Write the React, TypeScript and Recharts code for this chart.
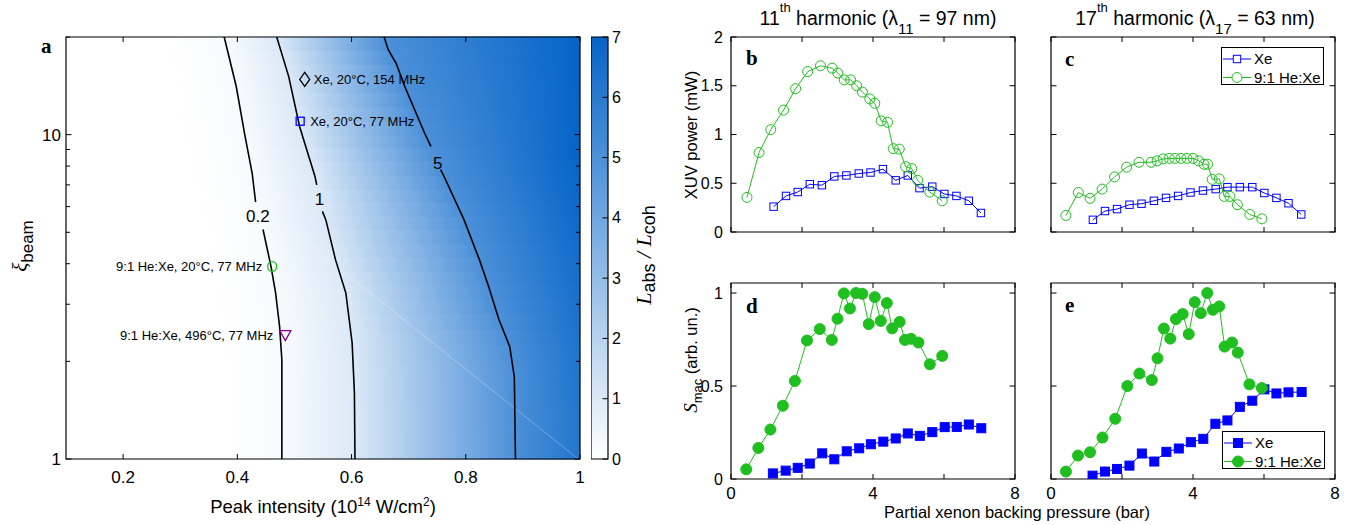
import React from "react";
import {
    ScatterChart,
    Scatter,
    XAxis,
    YAxis,
    ReferenceArea,
    ReferenceLine,
} from "recharts";

const FONT = '"Liberation Sans", Arial, sans-serif';
const SERIF = '"Liberation Serif", "Times New Roman", serif';
const BLUE = "#0000ff";
const GREEN = "#1fbf1f";

// ---------- panel a: L_abs / L_coh map ----------
const intensityTicks = [0.2, 0.4, 0.6, 0.8, 1];
const xiTicks = [1, 2, 3, 4, 5, 6, 7, 8, 9, 10, 20];
const xiLabels = [1, 10];

// contour lines [intensity, xi], split where the level label sits
const contour02Upper = [[0.377, 20], [0.398, 14.1], [0.413, 10], [0.426, 7.6], [0.432, 6.2]];
const contour02Lower = [[0.445, 5.1], [0.459, 3.92], [0.467, 3.25], [0.474, 2.56], [0.478, 2.02], [0.478, 1]];
const contour1Upper = [[0.469, 20], [0.49, 15.1], [0.509, 10.6], [0.536, 7.43], [0.539, 7.0]];
const contour1Lower = [[0.549, 5.8], [0.555, 5.46], [0.572, 4.11], [0.59, 3.25], [0.601, 2.28], [0.605, 1.6], [0.606, 1]];
const contour5Upper = [[0.657, 20], [0.664, 18.3], [0.678, 16.6], [0.693, 14.1], [0.709, 12.1], [0.728, 10.1], [0.739, 9.2]];
const contour5Lower = [[0.756, 7.8], [0.762, 7.43], [0.797, 5.46], [0.824, 4.11], [0.84, 3.4], [0.858, 2.69], [0.877, 2.22], [0.885, 1.79], [0.887, 1]];
const contourLabels = [
    { x: 0.436, y: 5.6, text: "0.2" },
    { x: 0.544, y: 6.35, text: "1" },
    { x: 0.751, y: 8.2, text: "5" },
];

// map rows: xi band, and the intensity where the value reaches 0.2, 1 and 5, plus the value at the right edge
const heatRows = [
    { lo: 1, hi: 1.25, x02: 0.478, x1: 0.606, x5: 0.887, vEnd: 6.2 },
    { lo: 1.25, hi: 1.5, x02: 0.478, x1: 0.606, x5: 0.886, vEnd: 6.2 },
    { lo: 1.5, hi: 1.75, x02: 0.478, x1: 0.605, x5: 0.885, vEnd: 6.25 },
    { lo: 1.75, hi: 2.0, x02: 0.478, x1: 0.604, x5: 0.884, vEnd: 6.3 },
    { lo: 2.0, hi: 2.25, x02: 0.477, x1: 0.602, x5: 0.879, vEnd: 6.3 },
    { lo: 2.25, hi: 2.5, x02: 0.475, x1: 0.6, x5: 0.871, vEnd: 6.35 },
    { lo: 2.5, hi: 2.8, x02: 0.473, x1: 0.597, x5: 0.86, vEnd: 6.4 },
    { lo: 2.8, hi: 3.1, x02: 0.469, x1: 0.593, x5: 0.851, vEnd: 6.45 },
    { lo: 3.1, hi: 3.45, x02: 0.467, x1: 0.589, x5: 0.843, vEnd: 6.5 },
    { lo: 3.45, hi: 3.8, x02: 0.463, x1: 0.583, x5: 0.835, vEnd: 6.55 },
    { lo: 3.8, hi: 4.2, x02: 0.459, x1: 0.575, x5: 0.826, vEnd: 6.6 },
    { lo: 4.2, hi: 4.6, x02: 0.455, x1: 0.568, x5: 0.818, vEnd: 6.65 },
    { lo: 4.6, hi: 5.1, x02: 0.45, x1: 0.561, x5: 0.808, vEnd: 6.7 },
    { lo: 5.1, hi: 5.6, x02: 0.445, x1: 0.556, x5: 0.799, vEnd: 6.75 },
    { lo: 5.6, hi: 6.2, x02: 0.44, x1: 0.551, x5: 0.788, vEnd: 6.8 },
    { lo: 6.2, hi: 6.8, x02: 0.436, x1: 0.545, x5: 0.777, vEnd: 6.85 },
    { lo: 6.8, hi: 7.5, x02: 0.429, x1: 0.538, x5: 0.767, vEnd: 6.9 },
    { lo: 7.5, hi: 8.3, x02: 0.424, x1: 0.532, x5: 0.755, vEnd: 6.95 },
    { lo: 8.3, hi: 9.1, x02: 0.42, x1: 0.524, x5: 0.745, vEnd: 7 },
    { lo: 9.1, hi: 10, x02: 0.415, x1: 0.515, x5: 0.734, vEnd: 7 },
    { lo: 10, hi: 11, x02: 0.411, x1: 0.51, x5: 0.727, vEnd: 7 },
    { lo: 11, hi: 12.2, x02: 0.406, x1: 0.504, x5: 0.713, vEnd: 7 },
    { lo: 12.2, hi: 13.5, x02: 0.402, x1: 0.497, x5: 0.703, vEnd: 7 },
    { lo: 13.5, hi: 15, x02: 0.398, x1: 0.49, x5: 0.693, vEnd: 7 },
    { lo: 15, hi: 16.5, x02: 0.392, x1: 0.487, x5: 0.685, vEnd: 7 },
    { lo: 16.5, hi: 18.2, x02: 0.386, x1: 0.48, x5: 0.672, vEnd: 7 },
    { lo: 18.2, hi: 20, x02: 0.38, x1: 0.472, x5: 0.662, vEnd: 7 },
];
const colorbarTicks = [0, 1, 2, 3, 4, 5, 6, 7];

// operating points
const xe154 = [{ x: 0.518, y: 14.8, note: "Xe, 20°C, 154 MHz" }];
const xe77 = [{ x: 0.51, y: 11.0, note: "Xe, 20°C, 77 MHz" }];
const heXe20 = [{ x: 0.461, y: 3.92, note: "9:1 He:Xe, 20°C, 77 MHz" }];
const heXe496 = [{ x: 0.484, y: 2.4, note: "9:1 He:Xe, 496°C, 77 MHz" }];

// ---------- panels b-e: partial Xe pressure (bar) vs value ----------
const pressureTicks = [0, 2, 4, 6, 8];
const powerTicks = [0, 0.5, 1, 1.5, 2];
const smacTicks = [0, 0.5, 1];

const powerXeH11 = [[1.2, 0.26], [1.55, 0.37], [1.88, 0.41], [2.22, 0.49], [2.56, 0.48], [2.91, 0.57], [3.25, 0.58], [3.6, 0.6], [3.93, 0.61], [4.28, 0.645], [4.64, 0.53], [4.98, 0.58], [5.31, 0.45], [5.67, 0.465], [6.01, 0.39], [6.35, 0.37], [6.7, 0.32], [7.04, 0.195]];
const powerMixH11 = [[0.45, 0.355], [0.79, 0.815], [1.12, 1.05], [1.48, 1.25], [1.82, 1.47], [2.16, 1.645], [2.52, 1.705], [2.85, 1.68], [3.01, 1.63], [3.19, 1.56], [3.37, 1.56], [3.54, 1.5], [3.7, 1.435], [3.91, 1.365], [4.05, 1.32], [4.23, 1.14], [4.41, 1.125], [4.57, 0.855], [4.74, 0.85], [4.92, 0.67], [5.09, 0.65], [5.26, 0.53], [5.6, 0.41], [5.95, 0.32]];
const powerXeH17 = [[1.18, 0.125], [1.52, 0.215], [1.86, 0.235], [2.21, 0.28], [2.55, 0.29], [2.9, 0.32], [3.24, 0.35], [3.58, 0.37], [3.93, 0.405], [4.28, 0.425], [4.64, 0.44], [4.97, 0.46], [5.32, 0.46], [5.67, 0.46], [6.01, 0.4], [6.35, 0.35], [6.69, 0.295], [7.05, 0.18]];
const powerMixH17 = [[0.42, 0.17], [0.77, 0.405], [1.1, 0.345], [1.44, 0.44], [1.79, 0.565], [2.13, 0.665], [2.48, 0.715], [2.82, 0.715], [2.99, 0.73], [3.16, 0.75], [3.33, 0.755], [3.49, 0.755], [3.66, 0.755], [3.83, 0.755], [4.0, 0.755], [4.16, 0.73], [4.31, 0.695], [4.41, 0.695], [4.54, 0.54], [4.74, 0.545], [4.88, 0.365], [5.04, 0.365], [5.25, 0.28], [5.6, 0.18], [5.94, 0.135]];
const smacXeH11 = [[1.18, 0.03], [1.54, 0.045], [1.88, 0.06], [2.22, 0.083], [2.57, 0.138], [2.91, 0.106], [3.26, 0.149], [3.61, 0.165], [3.94, 0.187], [4.29, 0.201], [4.64, 0.218], [4.98, 0.245], [5.32, 0.232], [5.67, 0.252], [6.02, 0.279], [6.36, 0.28], [6.7, 0.293], [7.05, 0.273]];
const smacMixH11 = [[0.43, 0.052], [0.77, 0.167], [1.11, 0.266], [1.46, 0.394], [1.8, 0.527], [2.14, 0.745], [2.5, 0.806], [2.84, 0.748], [3.0, 0.862], [3.18, 0.998], [3.35, 0.917], [3.52, 1.0], [3.7, 0.996], [3.88, 0.833], [4.05, 0.978], [4.22, 0.85], [4.39, 0.946], [4.54, 0.81], [4.75, 0.845], [4.9, 0.748], [5.07, 0.754], [5.28, 0.734], [5.6, 0.617], [5.95, 0.662]];
const smacXeH17 = [[1.17, 0.018], [1.52, 0.04], [1.86, 0.054], [2.21, 0.072], [2.56, 0.137], [2.91, 0.094], [3.25, 0.146], [3.6, 0.164], [3.94, 0.198], [4.29, 0.216], [4.63, 0.297], [4.97, 0.315], [5.32, 0.388], [5.67, 0.421], [6.01, 0.482], [6.35, 0.46], [6.69, 0.466], [7.06, 0.468]];
const smacMixH17 = [[0.42, 0.04], [0.76, 0.126], [1.1, 0.144], [1.45, 0.223], [1.81, 0.324], [2.15, 0.5], [2.49, 0.567], [2.84, 0.532], [3.0, 0.649], [3.18, 0.809], [3.36, 0.755], [3.52, 0.86], [3.71, 0.887], [3.88, 0.779], [4.05, 0.951], [4.22, 0.892], [4.4, 1.0], [4.56, 0.91], [4.74, 0.928], [4.89, 0.712], [5.1, 0.734], [5.26, 0.68], [5.59, 0.509], [5.94, 0.489]];

const toXY = (pts: number[][]) => pts.map(([x, y]) => ({ x, y }));

const heatColor = (v: number) => {
    const t = Math.max(0, Math.min(1, v / 7));
    return `rgb(${Math.round(255 - t * 250)},${Math.round(255 - t * 155)},${Math.round(255 - t * 55)})`;
};

// tick labels only; the inward tick marks are drawn with reference lines
const makeXLabel = (labels: number[], fontSize: number, baseline: number) => (props: any) => {
    const v = props.payload.value;
    if (!labels.includes(v)) return <g />;
    return (
        <text x={props.x} y={baseline} textAnchor="middle" fontSize={fontSize} fontFamily={FONT} fill="#000">
            {String(v)}
        </text>
    );
};

const makeYLabel = (labels: number[], fontSize: number, right: number) => (props: any) => {
    const v = props.payload.value;
    if (!labels.includes(v)) return <g />;
    return (
        <text x={right} y={props.y} dy="0.35em" textAnchor="end" fontSize={fontSize} fontFamily={FONT} fill="#000">
            {String(v)}
        </text>
    );
};

// MATLAB style inward ticks, mirrored on the opposite side of the box
const xTickMarks = (ticks: number[], len = 5) =>
    ticks.map((v) => (
        <ReferenceLine
            key={`xt${v}`}
            x={v}
            shape={(p: any) => {
                const top = Math.min(p.y1, p.y2);
                const bottom = Math.max(p.y1, p.y2);
                return (
                    <g>
                        <line x1={p.x1} x2={p.x1} y1={bottom} y2={bottom - len} stroke="#000" />
                        <line x1={p.x1} x2={p.x1} y1={top} y2={top + len} stroke="#000" />
                    </g>
                );
            }}
        />
    ));

const yTickMarks = (ticks: number[], major: number[] | null, mirror = true) =>
    ticks.map((v) => (
        <ReferenceLine
            key={`yt${v}`}
            y={v}
            shape={(p: any) => {
                const left = Math.min(p.x1, p.x2);
                const right = Math.max(p.x1, p.x2);
                const len = major && !major.includes(v) ? 4 : 5.5;
                return (
                    <g>
                        {mirror && <line x1={left} x2={left + len} y1={p.y1} y2={p.y1} stroke="#000" />}
                        <line x1={right} x2={right - len} y1={p.y1} y2={p.y1} stroke="#000" />
                    </g>
                );
            }}
        />
    ));

const hidden = () => <g />;

const noteShape = (marker: (cx: number, cy: number) => React.ReactNode, dx: number) => (p: any) => (
    <g>
        {marker(p.cx, p.cy)}
        <text
            x={p.cx + dx}
            y={p.cy}
            dy="0.35em"
            textAnchor={dx > 0 ? "start" : "end"}
            fontSize={13}
            fontFamily={FONT}
            fill="#000"
        >
            {p.payload.note}
        </text>
    </g>
);

function MapPanel() {
    const contours = [contour02Upper, contour02Lower, contour1Upper, contour1Lower, contour5Upper, contour5Lower];
    return (
        <div style={{ position: "absolute", left: 0, top: 0 }}>
            <ScatterChart width={600} height={525} margin={{ top: 37, right: 20, bottom: 0, left: 0 }}>
                {heatRows.map((r, i) => (
                    <ReferenceArea
                        key={`h${i}`}
                        x1={0.1}
                        x2={1}
                        y1={r.lo}
                        y2={r.hi}
                        shape={(p: any) => (
                            <rect x={p.x} y={p.y - 0.6} width={p.width} height={p.height + 1.2} fill={`url(#heat${i})`} />
                        )}
                    />
                ))}
                <ReferenceLine
                    segment={[{ x: 0.5, y: 5.0 }, { x: 0.997, y: 1.0 }]}
                    stroke="rgba(255,255,255,0.35)"
                    strokeWidth={0.8}
                />
                <XAxis
                    type="number"
                    dataKey="x"
                    domain={[0.1, 1]}
                    ticks={intensityTicks}
                    interval={0}
                    allowDataOverflow
                    height={66}
                    axisLine={false}
                    tickLine={false}
                    tick={makeXLabel(intensityTicks, 17, 483)}
                />
                <YAxis
                    type="number"
                    dataKey="y"
                    scale="log"
                    domain={[1, 20]}
                    ticks={xiTicks}
                    interval={0}
                    allowDataOverflow
                    width={66}
                    axisLine={false}
                    tickLine={false}
                    tick={makeYLabel(xiLabels, 17, 61)}
                />
                {contours.map((c, i) => (
                    <Scatter
                        key={`c${i}`}
                        data={toXY(c)}
                        line={{ stroke: "#000", strokeWidth: 1.6 }}
                        stroke="#000"
                        shape={hidden}
                        isAnimationActive={false}
                    />
                ))}
                <Scatter
                    data={contourLabels}
                    isAnimationActive={false}
                    shape={(p: any) => (
                        <text x={p.cx} y={p.cy} dy="0.35em" textAnchor="middle" fontSize={17} fontFamily={FONT} fill="#000">
                            {p.payload.text}
                        </text>
                    )}
                />
                <Scatter
                    data={xe154}
                    isAnimationActive={false}
                    shape={noteShape(
                        (cx, cy) => (
                            <path d={`M${cx},${cy - 7} L${cx + 5},${cy} L${cx},${cy + 7} L${cx - 5},${cy} Z`} fill="none" stroke="#000" strokeWidth={1.3} />
                        ),
                        9
                    )}
                />
                <Scatter
                    data={xe77}
                    isAnimationActive={false}
                    shape={noteShape(
                        (cx, cy) => <rect x={cx - 4} y={cy - 4} width={8} height={8} fill="none" stroke={BLUE} strokeWidth={1.3} />,
                        10
                    )}
                />
                <Scatter
                    data={heXe20}
                    isAnimationActive={false}
                    shape={noteShape(
                        (cx, cy) => <ellipse cx={cx} cy={cy} rx={4.5} ry={5} fill="none" stroke={GREEN} strokeWidth={1.3} />,
                        -10
                    )}
                />
                <Scatter
                    data={heXe496}
                    isAnimationActive={false}
                    shape={noteShape(
                        (cx, cy) => (
                            <path d={`M${cx - 5.5},${cy - 5} L${cx + 5.5},${cy - 5} L${cx},${cy + 5} Z`} fill="none" stroke="#8b008b" strokeWidth={1.3} />
                        ),
                        -12
                    )}
                />
                {xTickMarks(intensityTicks)}
                {yTickMarks(xiTicks, xiLabels)}
                <ReferenceArea x1={0.1} x2={1} y1={1} y2={20} fill="none" fillOpacity={0} stroke="#000" strokeWidth={1.2} />
            </ScatterChart>
        </div>
    );
}

function Colorbar() {
    // one invisible point per level, so the chart has data to lay out its axes
    const levels = colorbarTicks.map((v) => ({ x: 0.5, y: v }));
    return (
        <div style={{ position: "absolute", left: 591, top: 0 }}>
            <ScatterChart width={60} height={525} margin={{ top: 37, right: 0, bottom: 0, left: 0 }}>
                <XAxis type="number" dataKey="x" domain={[0, 1]} height={66} axisLine={false} tickLine={false} tick={false} />
                <YAxis
                    type="number"
                    dataKey="y"
                    orientation="right"
                    domain={[0, 7]}
                    ticks={colorbarTicks}
                    interval={0}
                    width={43}
                    axisLine={false}
                    tickLine={false}
                    tick={(props: any) => (
                        <text x={21} y={props.y} dy="0.35em" fontSize={16} fontFamily={FONT} fill="#000">
                            {props.payload.value}
                        </text>
                    )}
                />
                <ReferenceArea x1={0} x2={1} y1={0} y2={7} fill="url(#cbar)" fillOpacity={1} stroke="#000" strokeWidth={1.2} />
                {yTickMarks(colorbarTicks, null, false)}
                <Scatter data={levels} shape={hidden} isAnimationActive={false} />
            </ScatterChart>
        </div>
    );
}

type SeriesSpec = { data: number[][]; color: string; marker: "square" | "circle" };

function SmallPanel({
    left,
    top,
    width,
    height,
    marginTop,
    yWidth,
    xHeight,
    yDomain,
    yTicks,
    yLabels,
    xLabels,
    filled,
    series,
}: {
    left: number;
    top: number;
    width: number;
    height: number;
    marginTop: number;
    yWidth: number;
    xHeight: number;
    yDomain: [number, number];
    yTicks: number[];
    yLabels: number[];
    xLabels: number[];
    filled: boolean;
    series: SeriesSpec[];
}) {
    const right = 15;
    const bottom = height - xHeight;
    return (
        <div style={{ position: "absolute", left, top }}>
            <ScatterChart width={width} height={height} margin={{ top: marginTop, right, bottom: 0, left: 0 }}>
                <XAxis
                    type="number"
                    dataKey="x"
                    domain={[0, 8]}
                    ticks={pressureTicks}
                    interval={0}
                    height={xHeight}
                    axisLine={false}
                    tickLine={false}
                    tick={makeXLabel(xLabels, 17, bottom + 20)}
                />
                <YAxis
                    type="number"
                    dataKey="y"
                    domain={yDomain}
                    ticks={yTicks}
                    interval={0}
                    allowDataOverflow
                    width={yWidth}
                    axisLine={false}
                    tickLine={false}
                    tick={makeYLabel(yLabels, 16, yWidth - 8)}
                />
                {xTickMarks(pressureTicks)}
                {yTickMarks(yTicks, null)}
                {series.map((s, i) => (
                    <Scatter
                        key={i}
                        data={toXY(s.data)}
                        line={{ stroke: s.color, strokeWidth: 1 }}
                        stroke={s.color}
                        isAnimationActive={false}
                        shape={(p: any) =>
                            s.marker === "square" ? (
                                filled ? (
                                    <rect x={p.cx - 4.5} y={p.cy - 4.5} width={9} height={9} fill={s.color} stroke={s.color} />
                                ) : (
                                    <rect x={p.cx - 3.7} y={p.cy - 3.7} width={7.4} height={7.4} fill="none" stroke={s.color} strokeWidth={1} />
                                )
                            ) : filled ? (
                                <circle cx={p.cx} cy={p.cy} r={5.5} fill={s.color} stroke={s.color} />
                            ) : (
                                <circle cx={p.cx} cy={p.cy} r={5} fill="none" stroke={s.color} strokeWidth={1} />
                            )
                        }
                    />
                ))}
                <ReferenceArea
                    x1={0}
                    x2={8}
                    y1={yDomain[0]}
                    y2={yDomain[1]}
                    fill="none"
                    fillOpacity={0}
                    stroke="#000"
                    strokeWidth={1.2}
                />
            </ScatterChart>
        </div>
    );
}

function LegendBox({ left, top, filled }: { left: number; top: number; filled: boolean }) {
    const rows = [
        { name: "Xe", color: BLUE, marker: "square" },
        { name: "9:1 He:Xe", color: GREEN, marker: "circle" },
    ];
    return (
        <div
            style={{
                position: "absolute",
                left,
                top,
                width: 103,
                height: 38,
                border: "1.2px solid #000",
                background: "#fff",
                boxSizing: "border-box",
            }}
        >
            <svg width={103} height={38} style={{ display: "block" }}>
                {rows.map((r, i) => {
                    const cy = 11 + i * 18.5;
                    return (
                        <g key={r.name}>
                            <line x1={1} x2={29} y1={cy} y2={cy} stroke={r.color} />
                            {r.marker === "square" ? (
                                <rect
                                    x={15 - (filled ? 4.5 : 3.7)}
                                    y={cy - (filled ? 4.5 : 3.7)}
                                    width={filled ? 9 : 7.4}
                                    height={filled ? 9 : 7.4}
                                    fill={filled ? r.color : "#fff"}
                                    stroke={r.color}
                                />
                            ) : (
                                <circle cx={15} cy={cy} r={filled ? 5.5 : 5} fill={filled ? r.color : "#fff"} stroke={r.color} />
                            )}
                            <text x={32} y={cy} dy="0.35em" fontSize={15} fontFamily={FONT} fill="#000">
                                {r.name}
                            </text>
                        </g>
                    );
                })}
            </svg>
        </div>
    );
}

function Title({ x, order, lambda }: { x: number; order: string; lambda: string }) {
    return (
        <text x={x} y={25} textAnchor="middle" fontSize={19.5} fontFamily={FONT} fill="#000">
            {order}
            <tspan dy={-13} fontSize={13}>th</tspan>
            <tspan dy={13}> harmonic (λ</tspan>
            <tspan dy={9} fontSize={15}>{order}</tspan>
            <tspan dy={-9}> = {lambda} nm)</tspan>
        </text>
    );
}

function Overlay() {
    const letter = { fontFamily: SERIF, fontWeight: 700, fontSize: 21, fill: "#000" } as const;
    const txt = { fontFamily: FONT, fill: "#000" } as const;
    return (
        <svg width={1354} height={525} style={{ position: "absolute", left: 0, top: 0, pointerEvents: "none" }}>
            <text x={41} y={53} {...letter}>a</text>
            <text x={746} y={65} {...letter}>b</text>
            <text x={1065} y={66} {...letter}>c</text>
            <text x={746} y={313} {...letter}>d</text>
            <text x={1065} y={312} {...letter}>e</text>

            <Title x={878} order="11" lambda="97" />
            <Title x={1195} order="17" lambda="63" />

            <text transform="translate(697,135) rotate(-90)" textAnchor="middle" fontSize={16.5} {...txt}>
                XUV power (mW)
            </text>
            <text transform="translate(697,360) rotate(-90)" textAnchor="middle" fontSize={16.5} {...txt}>
                <tspan fontFamily={SERIF} fontStyle="italic" fontSize={19}>S</tspan>
                <tspan dy={5} fontSize={13}>mac</tspan>
                <tspan dy={-5}> (arb. un.)</tspan>
            </text>

            <text transform="translate(27,246) rotate(-90)" textAnchor="middle" fontSize={17} {...txt}>
                <tspan fontFamily={SERIF} fontStyle="italic" fontSize={21}>ξ</tspan>
                <tspan dy={6}>beam</tspan>
            </text>
            <text x={323} y={513} textAnchor="middle" fontSize={18.5} {...txt}>
                Peak intensity (10<tspan dy={-7} fontSize={12}>14</tspan>
                <tspan dy={7}> W/cm</tspan>
                <tspan dy={-7} fontSize={12}>2</tspan>
                <tspan dy={7}>)</tspan>
            </text>
            <text transform="translate(651,255) rotate(-90)" textAnchor="middle" fontSize={22} {...txt}>
                <tspan fontFamily={SERIF} fontStyle="italic">L</tspan>
                <tspan dy={4} fontSize={18}>abs</tspan>
                <tspan dy={-4} fontFamily={SERIF} fontStyle="italic"> / L</tspan>
                <tspan dy={4} fontSize={18}>coh</tspan>
            </text>

            <text x={1017} y={518} textAnchor="middle" fontSize={16.5} {...txt}>
                Partial xenon backing pressure (bar)
            </text>
        </svg>
    );
}

export default function App() {
    return (
        <div
            style={{
                position: "absolute",
                left: 0,
                top: 0,
                width: 1354,
                height: 525,
                background: "#fff",
                overflow: "hidden",
                fontFamily: FONT,
            }}
        >
            <svg width={0} height={0} style={{ position: "absolute" }}>
                <defs>
                    {heatRows.map((r, i) => (
                        <linearGradient key={i} id={`heat${i}`} x1="0" y1="0" x2="1" y2="0">
                            {[
                                [0.1, 0],
                                [r.x02 - 0.105, 0],
                                [r.x02, 0.2],
                                [r.x1, 1],
                                [r.x5, 5],
                                [1, r.vEnd],
                            ].map(([xv, v], j) => (
                                <stop key={j} offset={(xv - 0.1) / 0.9} stopColor={heatColor(v)} />
                            ))}
                        </linearGradient>
                    ))}
                    <linearGradient id="cbar" x1="0" y1="1" x2="0" y2="0">
                        <stop offset={0} stopColor={heatColor(0)} />
                        <stop offset={1} stopColor={heatColor(7)} />
                    </linearGradient>
                </defs>
            </svg>

            <MapPanel />
            <Colorbar />

            <SmallPanel
                left={690}
                top={0}
                width={340}
                height={260}
                marginTop={37}
                yWidth={41}
                xHeight={28}
                yDomain={[0, 2]}
                yTicks={powerTicks}
                yLabels={powerTicks}
                xLabels={[]}
                filled={false}
                series={[
                    { data: powerXeH11, color: BLUE, marker: "square" },
                    { data: powerMixH11, color: GREEN, marker: "circle" },
                ]}
            />
            <SmallPanel
                left={1020}
                top={0}
                width={330}
                height={260}
                marginTop={37}
                yWidth={31}
                xHeight={28}
                yDomain={[0, 2]}
                yTicks={powerTicks}
                yLabels={[]}
                xLabels={[]}
                filled={false}
                series={[
                    { data: powerXeH17, color: BLUE, marker: "square" },
                    { data: powerMixH17, color: GREEN, marker: "circle" },
                ]}
            />
            <SmallPanel
                left={690}
                top={250}
                width={340}
                height={265}
                marginTop={33}
                yWidth={41}
                xHeight={36}
                yDomain={[0, 1.054]}
                yTicks={smacTicks}
                yLabels={smacTicks}
                xLabels={[0, 4, 8]}
                filled
                series={[
                    { data: smacXeH11, color: BLUE, marker: "square" },
                    { data: smacMixH11, color: GREEN, marker: "circle" },
                ]}
            />
            <SmallPanel
                left={1020}
                top={250}
                width={330}
                height={265}
                marginTop={33}
                yWidth={31}
                xHeight={36}
                yDomain={[0, 1.054]}
                yTicks={smacTicks}
                yLabels={[]}
                xLabels={[0, 4, 8]}
                filled
                series={[
                    { data: smacXeH17, color: BLUE, marker: "square" },
                    { data: smacMixH17, color: GREEN, marker: "circle" },
                ]}
            />

            <LegendBox left={1221} top={47} filled={false} />
            <LegendBox left={1222} top={431} filled />

            <Overlay />
        </div>
    );
}
